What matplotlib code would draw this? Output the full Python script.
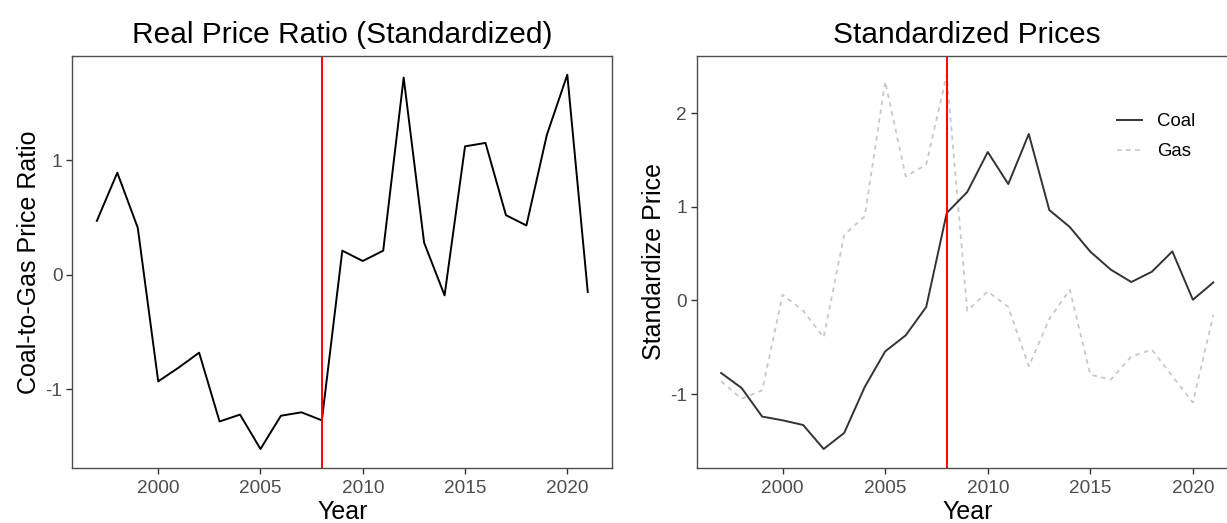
import matplotlib
matplotlib.use("Agg")
import matplotlib.pyplot as plt

plt.rcParams['font.family'] = ['Liberation Sans', 'DejaVu Sans']

years = list(range(1997, 2022))
ratio = [0.47, 0.89, 0.41, -0.93, -0.81, -0.68, -1.28, -1.22, -1.52, -1.23, -1.20, -1.27,
         0.21, 0.12, 0.21, 1.72, 0.28, -0.18, 1.12, 1.15, 0.52, 0.43, 1.22, 1.745, -0.15]
coal = [-0.775, -0.935, -1.24, -1.28, -1.33, -1.586, -1.415, -0.925, -0.544, -0.373, -0.07,
        0.933, 1.157, 1.584, 1.242, 1.776, 0.965, 0.783, 0.52, 0.328, 0.196, 0.306, 0.523,
        0.007, 0.192]
gas = [-0.864, -1.05, -0.96, 0.06, -0.11, -0.395, 0.70, 0.897, 2.337, 1.323, 1.448, 2.409,
       -0.11, 0.096, -0.07, -0.704, -0.199, 0.114, -0.793, -0.846, -0.598, -0.526, -0.81,
       -1.089, -0.153]
break_year = 2008
xticks = [2000, 2005, 2010, 2015, 2020]

W, H = 1227, 523
fig = plt.figure(figsize=(W / 100, H / 100), dpi=100)
top_px, bot_px = 56, 467.7
ax1 = fig.add_axes([72.3 / W, 1 - bot_px / H, 540 / W, (bot_px - top_px) / H])
ax2 = fig.add_axes([696.5 / W, 1 - bot_px / H, 541.5 / W, (bot_px - top_px) / H])


def style(ax, yticks, ylabel, title):
    for s in ax.spines.values():
        s.set_color('#4D4D4D')
        s.set_linewidth(1.0)
    ax.set_xticks(xticks)
    ax.set_yticks(yticks)
    ax.set_yticklabels([str(v) for v in yticks])
    ax.tick_params(axis='both', colors='#333333', labelcolor='#4D4D4D',
                   labelsize=13.7, length=4, width=1.0, pad=3)
    ax.tick_params(axis='x', pad=5)
    ax.set_xlabel('Year', fontsize=18, labelpad=1.8)
    ax.set_ylabel(ylabel, fontsize=18, labelpad=3)
    ax.set_title(title, fontsize=21.5, pad=9)


def lims(ax, vals):
    lo, hi = min(vals), max(vals)
    pad = (hi - lo) * 0.05
    ax.set_ylim(lo - pad, hi + pad)
    xpad = (years[-1] - years[0]) * 0.05
    ax.set_xlim(years[0] - xpad, years[-1] + xpad)


ax1.plot(years, ratio, color='black', lw=1.4)
ax1.axvline(break_year, color='red', lw=1.4)
lims(ax1, ratio)
style(ax1, [-1, 0, 1], 'Coal-to-Gas Price Ratio', 'Real Price Ratio (Standardized)')

ax2.plot(years, gas, color='#C8C8C8', lw=1.3, ls=(0, (2.5, 2.5)), label='Gas')
ax2.plot(years, coal, color='#333333', lw=1.4, label='Coal')
ax2.axvline(break_year, color='red', lw=1.4)
lims(ax2, coal + gas)
style(ax2, [-1, 0, 1, 2], 'Standardize Price', 'Standardized Prices')
h, l = ax2.get_legend_handles_labels()
ax2.legend([h[1], h[0]], [l[1], l[0]], frameon=False, fontsize=13.4,
           loc='upper left', bbox_to_anchor=(1117 / W, 1 - 113 / H),
           bbox_transform=fig.transFigure, borderpad=0, borderaxespad=0,
           handlelength=1.35, labelspacing=0.72, handletextpad=0.8)

fig.savefig('out.png', dpi=100)
